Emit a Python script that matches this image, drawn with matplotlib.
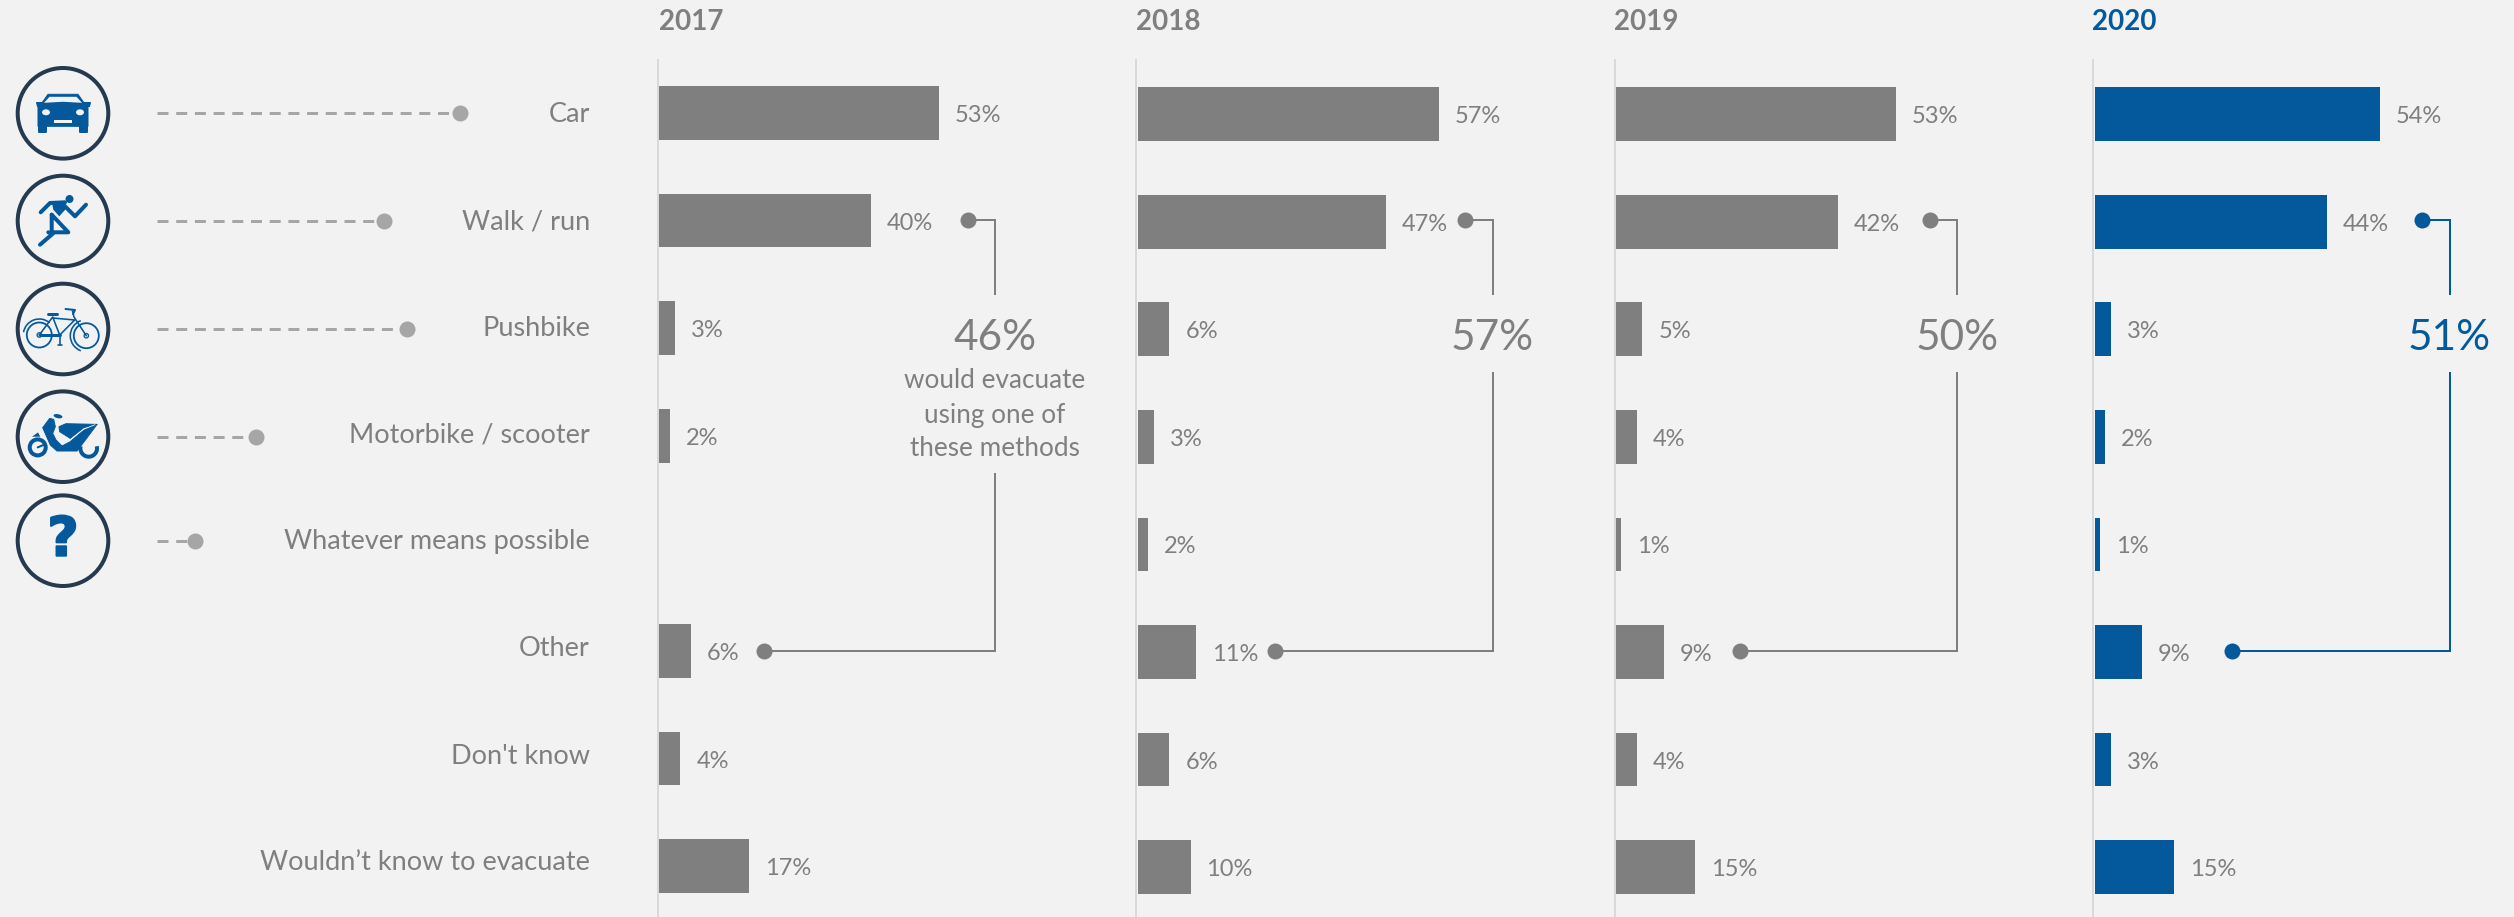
import matplotlib
matplotlib.use("Agg")
import matplotlib.pyplot as plt
import matplotlib.patheffects as pe
from matplotlib.patches import Circle, Polygon, Arc, Ellipse, Rectangle
import numpy as np

plt.rcParams['font.family'] = ['Lato', 'DejaVu Sans']

W, H = 2514, 917
GREY = "#7f7f7f"
BLUE = "#03599c"
LIGHT = "#a6a6a6"
BG = "#f2f2f2"
RING = "#25394f"
PX = 0.72  # one pixel in points at dpi 100

categories = ["Car", "Walk / run", "Pushbike", "Motorbike / scooter", "Whatever means possible",
              "Other", "Don't know", "Wouldn’t know to evacuate"]
years = ["2017", "2018", "2019", "2020"]
v2017 = [53, 40, 3, 2, None, 6, 4, 17]
v2018 = [57, 47, 6, 3, 2, 11, 6, 10]
v2019 = [53, 42, 5, 4, 1, 9, 4, 15]
v2020 = [54, 44, 3, 2, 1, 9, 3, 15]
totals = ["46%", "57%", "50%", "51%"]
series = [v2017, v2018, v2019, v2020]

# layout, in pixels
panel_x = [659.3, 1137.7, 1616, 2094.7]
year_x = [658.5, 1136, 1614, 2092]
panel_dy = [-1, 0, 0, 0]
row_y0, row_step = 114, 107.6
px_per_pct = 5.28
label_y = [115, 222, 329, 435, 542, 649, 756, 863]
icon_y = [113.3, 221, 329, 436.7, 540.7]
dash_end = [460, 384, 407, 256, 195]
bracket_x = [994.7, 1492.5, 1957.3, 2449.5]
top_dot_x = [968, 1465, 1930, 2422.3]
low_dot_x = [763.7, 1275.3, 1740.3, 2232.3]
line_resume = [474, 373, 373, 373]

fig = plt.figure(figsize=(W / 100, H / 100), dpi=100, facecolor=BG)

# full-size layer in pixel coordinates for labels, icons and leader lines
base = fig.add_axes([0, 0, 1, 1])
base.set_xlim(0, W)
base.set_ylim(H, 0)
base.axis("off")

for name, y in zip(categories, label_y):
    base.text(590, y, name, ha="right", va="center", color=GREY, fontsize=19.5)

# bar panels
for k, vals in enumerate(series):
    top, bottom = 60, H
    ax = fig.add_axes([panel_x[k] / W, 0, 400 / W, (bottom - top) / H])
    ax.patch.set_visible(False)
    ax.set_xlim(0, 400 / px_per_pct)
    y0 = row_y0 + panel_dy[k]
    ax.set_ylim((bottom - y0) / row_step, (top - y0) / row_step)
    color = BLUE if k == 3 else GREY
    for i, v in enumerate(vals):
        if v is None:
            continue
        ax.barh(i, v, height=0.5, color=color, linewidth=0, zorder=3)
        ax.annotate(f"{v}%", (v, i), xytext=(16 * PX, -2.5 * PX), textcoords="offset points",
                    ha="left", va="center", color=GREY, fontsize=17)
    for s in ["top", "right", "bottom"]:
        ax.spines[s].set_visible(False)
    ax.spines["left"].set_position(("outward", 1))
    ax.spines["left"].set_color("#d9d9d9")
    ax.spines["left"].set_linewidth(2 * PX)
    ax.set_xticks([])
    ax.set_yticks([])

    base.text(year_x[k], 22, years[k], ha="left", va="center", color=color,
              fontsize=20, fontweight="bold")

    # bracket joining the two grouped answers to their total
    bx = bracket_x[k]
    base.plot([top_dot_x[k], bx, bx], [220, 220, 294], color=color, lw=2 * PX, solid_joinstyle="miter")
    base.plot([bx, bx, low_dot_x[k]], [line_resume[k], 651, 651], color=color, lw=2 * PX, solid_joinstyle="miter")
    base.plot([top_dot_x[k], low_dot_x[k]], [220, 651], ls="none", marker="o", ms=16 * PX, color=color, mew=0)
    base.text(bx, 338, totals[k], ha="center", va="center", color=color, fontsize=30.5)

for y, t in zip([381, 415, 449], ["would evacuate", "using one of", "these methods"]):
    base.text(bracket_x[0], y, t, ha="center", va="center", color=GREY, fontsize=18.8)

# dashed lead-ins next to the icons
for y, x1 in zip(icon_y, dash_end):
    base.plot([157, x1], [y, y], color=LIGHT, lw=3 * PX, dashes=(11 / 3, 7.7 / 3), dash_capstyle="butt")
    base.plot(x1, y, marker="o", ms=16 * PX, color=LIGHT, mew=0)

# icon rings
for y in icon_y:
    base.add_patch(Circle((63, y), 45.3, fc="none", ec=RING, lw=4 * PX))


def fill(points, cx, cy, color=BLUE, lw=0.0):
    pts = np.array(points, dtype=float) + [cx, cy]
    base.add_patch(Polygon(pts, closed=True, fc=color, ec=color, lw=lw * PX, joinstyle="round"))


def stroke(points, cx, cy, lw=3.0, color=BLUE):
    pts = np.array(points, dtype=float) + [cx, cy]
    base.plot(pts[:, 0], pts[:, 1], color=color, lw=lw * PX, solid_capstyle="round", solid_joinstyle="round")


def draw_car(cx, cy):
    fill([(-15, -19), (15, -19), (22, -9), (25, -6), (25, 13), (-25, 13), (-25, -6), (-22, -9)], cx, cy, lw=1)
    fill([(-27, -11), (-20, -11), (-20, -7), (-26, -7)], cx, cy, lw=1)
    fill([(27, -11), (20, -11), (20, -7), (26, -7)], cx, cy, lw=1)
    fill([(-24, 12), (-17, 12), (-17, 18.5), (-24, 18.5)], cx, cy, lw=2)
    fill([(24, 12), (17, 12), (17, 18.5), (24, 18.5)], cx, cy, lw=2)
    fill([(-13.5, -16.5), (13.5, -16.5), (19, -10.5), (0, -11.5), (-19, -10.5)], cx, cy, color=BG)
    base.add_patch(Ellipse((cx - 17, cy - 1), 8, 6, fc=BG, ec="none"))
    base.add_patch(Ellipse((cx + 17, cy - 1), 8, 6, fc=BG, ec="none"))
    base.add_patch(Rectangle((cx - 9, cy + 7), 18, 2.5, fc=BG, ec="none"))


def draw_runner(cx, cy):
    base.add_patch(Circle((cx + 6.5, cy - 22), 4, fc=BLUE, ec="none"))
    fill([(-11.3, -19.7), (2, -19.7), (3.7, -13), (-3.7, -4.7), (-9.7, -11.3)], cx, cy)
    stroke([(-22.3, -8.7), (-13, -18), (2, -18.7)], cx, cy, lw=4)
    stroke([(2, -14.7), (12, -4.7), (23, -16.3)], cx, cy, lw=4)
    stroke([(-11.3, -6.3), (-11.3, 11.3), (5.3, 11.3), (-11.3, -6.3)], cx, cy, lw=4)
    stroke([(-14.7, 11.3), (-10, 12.5), (-23, 23.7)], cx, cy, lw=4)


def draw_bike(cx, cy):
    lw = 1.6
    for wx, wy in [(-23.7, 6), (23.3, 6.7)]:
        base.add_patch(Circle((cx + wx, cy + wy), 12.5, fc="none", ec=BLUE, lw=1.8 * PX))
        base.add_patch(Circle((cx + wx, cy + wy), 2.2, fc="none", ec=BLUE, lw=1.3 * PX))
    base.add_patch(Arc((cx - 23.7, cy + 6), 32, 32, theta1=190, theta2=310, ec=BLUE, lw=1.6 * PX))
    base.add_patch(Arc((cx + 23.3, cy + 6.7), 32, 32, theta1=110, theta2=250, ec=BLUE, lw=1.6 * PX))
    stroke([(-23.7, 6), (-3.3, 6), (-10.3, -12), (-23.7, 6)], cx, cy, lw=lw)
    stroke([(-10.3, -11), (11.7, -9), (-3.3, 6)], cx, cy, lw=lw)
    stroke([(23.3, 6.7), (11, -12), (9.5, -18)], cx, cy, lw=lw)
    stroke([(2.5, -20), (12, -19), (10, -15)], cx, cy, lw=2)
    stroke([(-15, -15.5), (-6.5, -15.5)], cx, cy, lw=3)
    stroke([(-3.3, 6), (-3.3, 16)], cx, cy, lw=lw)
    stroke([(-5.5, 16), (-1, 16)], cx, cy, lw=lw)
    stroke([(-23, 6), (-3, 6)], cx, cy, lw=3)


def draw_scooter(cx, cy):
    base.add_patch(Circle((cx - 25.3, cy + 10.7), 8, fc="none", ec=BLUE, lw=4 * PX))
    stroke([(-25.3, 10.7), (-19, 8)], cx, cy, lw=2)
    base.add_patch(Arc((cx + 25.7, cy + 11.7), 16.6, 16.6, theta1=-15, theta2=195, ec=BLUE, lw=4 * PX))
    fill([(-20.3, -9), (-13.3, -18.3), (-9.3, -17.3), (-7.7, -10), (-10.3, -3.3), (-7, 3.3), (-1, 9.3),
          (7.3, 5), (20.7, -6.7), (34, -12.3), (27.3, -3.3), (17.3, 10), (14, 14.3), (-6, 14.3),
          (-12.7, 8.3)], cx, cy, lw=1)
    fill([(-4, -10), (3, -13), (34, -12.3), (20.7, -9), (7.3, 1.7), (-3.3, -5)], cx, cy, lw=1)
    stroke([(6, 4), (20.7, -7.5), (32, -12)], cx, cy, lw=0.8, color=BG)
    fill([(-31, 0), (-25, -4.3), (-22.7, 0)], cx, cy)
    base.add_patch(Ellipse((cx - 5, cy - 20.5), 9, 4, angle=12, fc=BLUE, ec="none"))


for draw, y in zip([draw_car, draw_runner, draw_bike, draw_scooter], icon_y):
    draw(63, y)
base.text(63, 540.7, "?", ha="center", va="center", color=BLUE, fontsize=39, fontweight="bold",
          family="DejaVu Sans", path_effects=[pe.withStroke(linewidth=2 * PX, foreground=BLUE)])

fig.savefig("out.png", dpi=100, facecolor=BG)
